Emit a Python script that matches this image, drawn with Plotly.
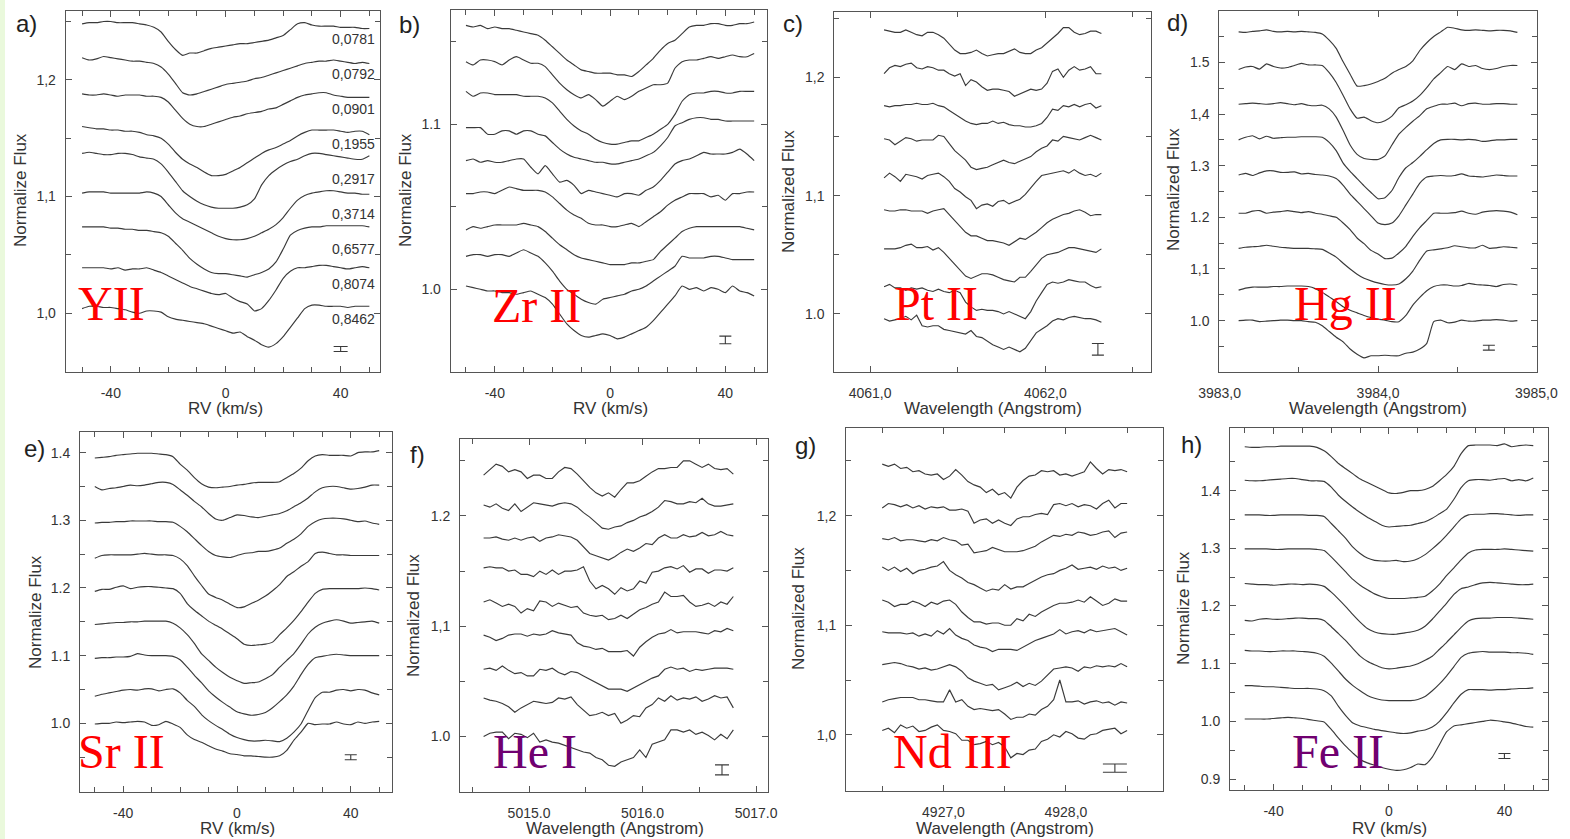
import numpy as np
import plotly.graph_objects as go

W, H = 1570, 839

# ---------------- data (flux values in units of 0.001) ----------------
rv_grid = np.arange(-50, 50.001, 2.5)            # km/s
pt_wave = np.linspace(4061.08, 4062.32, 41)       # Angstrom
hg_wave = np.linspace(3983.12, 3984.88, 41)
he_wave = np.linspace(5014.60, 5016.80, 41)
nd_wave = np.linspace(4926.50, 4928.50, 41)

phase_labels = ['0,0781', '0,0792', '0,0901', '0,1955', '0,2917', '0,3714', '0,6577', '0,8074', '0,8462']
phase_label_y = [1.235, 1.205, 1.175, 1.145, 1.115, 1.085, 1.055, 1.025, 0.995]
phase_label_x = 44.6

flux_y2 = [
    [1248,1249,1249,1250,1250,1249,1249,1249,1248,1247,1245,1241,1233,1226,1221,1223,1223,1225,1227,1228,1229,1230,1231,1231,1232,1233,1234,1236,1238,1243,1248,1249,1247,1246,1246,1246,1245,1245,1245,1244,1244],
    [1219,1217,1218,1220,1219,1218,1217,1216,1216,1215,1214,1211,1205,1197,1189,1187,1188,1190,1192,1194,1196,1197,1198,1199,1201,1202,1204,1206,1208,1210,1212,1214,1215,1216,1216,1217,1216,1215,1214,1215,1214],
    [1188,1187,1187,1188,1187,1186,1187,1187,1187,1186,1186,1185,1181,1174,1167,1162,1160,1160,1162,1164,1166,1168,1169,1171,1172,1173,1175,1176,1179,1182,1185,1187,1188,1189,1189,1187,1186,1185,1185,1185,1185],
    [1160,1159,1158,1158,1157,1157,1156,1156,1155,1153,1152,1150,1145,1138,1132,1128,1125,1121,1118,1118,1119,1122,1125,1129,1133,1137,1140,1142,1145,1148,1152,1155,1157,1157,1157,1157,1156,1155,1156,1156,1153],
    [1137,1138,1137,1136,1136,1137,1137,1136,1134,1133,1132,1128,1121,1113,1105,1100,1096,1093,1091,1090,1090,1090,1091,1093,1098,1110,1118,1123,1127,1130,1132,1135,1137,1137,1136,1135,1134,1133,1132,1132,1135],
    [1103,1104,1104,1104,1103,1103,1103,1103,1103,1104,1103,1100,1093,1086,1081,1078,1075,1072,1069,1066,1064,1063,1063,1064,1066,1069,1072,1076,1082,1090,1097,1101,1103,1104,1105,1105,1104,1103,1103,1102,1102],
    [1074,1074,1074,1074,1073,1073,1072,1072,1071,1071,1070,1069,1066,1060,1054,1047,1042,1038,1035,1034,1034,1033,1032,1031,1033,1035,1038,1044,1055,1067,1071,1073,1074,1074,1075,1075,1075,1075,1075,1075,1074],
    [1039,1039,1039,1039,1038,1039,1037,1038,1038,1039,1037,1035,1032,1029,1026,1023,1021,1019,1017,1016,1017,1013,1010,1008,1002,1004,1011,1020,1030,1036,1039,1039,1040,1041,1041,1040,1039,1038,1039,1040,1039],
    [1004,1006,1006,1005,1005,1004,1003,1001,1000,1002,1002,1001,997,995,994,993,992,991,989,987,985,983,984,980,977,973,971,974,980,988,996,1004,1007,1007,1006,1006,1006,1005,1006,1006,1006],
]

flux_zr2 = [
    [1160,1159,1160,1158,1159,1158,1158,1157,1156,1155,1154,1151,1147,1143,1139,1136,1133,1132,1131,1131,1131,1130,1130,1129,1132,1136,1140,1145,1149,1151,1155,1159,1160,1160,1161,1161,1160,1160,1161,1161,1162],
    [1138,1136,1139,1139,1138,1136,1139,1141,1139,1137,1137,1135,1130,1125,1121,1118,1116,1118,1115,1111,1114,1117,1115,1117,1120,1122,1124,1124,1125,1134,1138,1139,1139,1140,1141,1140,1141,1142,1141,1141,1143],
    [1120,1117,1119,1119,1118,1118,1118,1118,1117,1117,1117,1116,1113,1108,1103,1099,1096,1094,1091,1089,1088,1088,1089,1090,1090,1092,1094,1097,1100,1106,1114,1118,1119,1119,1120,1120,1119,1119,1120,1120,1120],
    [1098,1098,1098,1094,1094,1096,1096,1094,1096,1096,1094,1093,1089,1085,1082,1080,1079,1078,1077,1077,1076,1076,1077,1078,1079,1081,1083,1087,1092,1099,1101,1103,1104,1104,1103,1103,1102,1102,1102,1102,1102],
    [1078,1079,1077,1078,1077,1077,1078,1079,1079,1074,1070,1075,1070,1065,1066,1063,1058,1060,1059,1058,1057,1056,1058,1058,1057,1060,1062,1066,1071,1076,1078,1079,1081,1083,1082,1082,1082,1083,1085,1082,1078],
    [1058,1058,1059,1059,1058,1060,1062,1061,1060,1060,1060,1059,1056,1052,1048,1045,1043,1040,1039,1039,1038,1038,1039,1040,1038,1041,1044,1047,1051,1054,1056,1058,1058,1058,1056,1057,1054,1058,1058,1059,1059],
    [1036,1038,1037,1038,1039,1039,1039,1039,1040,1039,1038,1035,1031,1027,1024,1021,1019,1018,1017,1016,1015,1015,1015,1016,1016,1017,1018,1023,1027,1031,1035,1037,1038,1038,1038,1038,1038,1038,1038,1037,1036],
    [1020,1021,1021,1020,1021,1021,1020,1022,1024,1022,1020,1016,1011,1005,1000,997,994,992,991,994,995,996,997,999,1000,1002,1005,1008,1011,1014,1020,1019,1019,1019,1020,1020,1019,1018,1018,1018,1018],
    [1002,1001,1000,999,999,998,998,997,998,999,997,995,991,985,979,975,972,971,972,973,972,970,971,973,975,977,981,986,991,996,1002,1000,1001,999,1001,1000,998,1002,999,998,996],
]

flux_pt2 = [
    [1240,1239,1238,1238,1240,1238,1236,1235,1238,1238,1236,1233,1228,1223,1220,1220,1221,1223,1220,1218,1219,1220,1220,1222,1224,1221,1220,1220,1223,1225,1229,1233,1237,1242,1242,1238,1236,1237,1239,1239,1237],
    [1203,1208,1210,1209,1211,1212,1208,1207,1209,1208,1206,1206,1203,1201,1203,1193,1198,1196,1192,1189,1190,1190,1189,1188,1184,1186,1188,1190,1189,1190,1195,1205,1207,1200,1206,1209,1206,1207,1209,1203,1203],
    [1176,1175,1176,1176,1177,1177,1178,1177,1177,1178,1176,1175,1172,1169,1166,1163,1161,1160,1161,1161,1163,1161,1162,1160,1159,1159,1158,1158,1159,1161,1166,1173,1172,1176,1175,1177,1175,1177,1178,1174,1176],
    [1148,1147,1143,1146,1149,1148,1146,1147,1147,1147,1151,1150,1144,1138,1134,1130,1124,1122,1123,1124,1126,1128,1130,1128,1127,1129,1131,1133,1137,1140,1142,1147,1146,1150,1149,1148,1147,1149,1151,1149,1147],
    [1115,1119,1116,1112,1118,1117,1116,1114,1117,1118,1119,1116,1112,1106,1103,1099,1096,1089,1092,1093,1091,1095,1096,1093,1095,1097,1101,1107,1112,1117,1118,1119,1120,1121,1119,1122,1119,1117,1118,1116,1119],
    [1088,1087,1087,1088,1088,1087,1087,1087,1085,1087,1088,1089,1084,1079,1074,1069,1066,1066,1064,1062,1062,1061,1060,1058,1061,1064,1063,1066,1069,1073,1077,1080,1082,1084,1085,1087,1088,1086,1083,1084,1084],
    [1055,1055,1055,1056,1058,1059,1056,1056,1057,1054,1056,1052,1047,1042,1037,1032,1030,1032,1034,1034,1033,1031,1029,1028,1027,1031,1031,1036,1042,1047,1050,1051,1052,1054,1056,1056,1055,1054,1053,1052,1055],
    [1023,1025,1022,1022,1020,1022,1021,1022,1020,1019,1021,1019,1018,1020,1018,1010,1006,1003,1004,1003,1003,1002,1000,1002,1000,998,996,1002,1011,1018,1025,1027,1026,1027,1029,1028,1027,1027,1024,1022,1023],
    [996,994,995,996,998,995,999,990,989,990,990,987,986,985,984,983,986,981,980,977,974,972,970,972,970,968,971,978,984,987,990,994,996,995,997,998,997,996,996,995,993],
]

flux_hg2 = [
    [1559,1558,1560,1561,1563,1560,1559,1560,1559,1560,1559,1558,1555,1543,1527,1501,1477,1454,1455,1458,1463,1469,1479,1486,1492,1503,1523,1538,1550,1559,1568,1566,1563,1562,1563,1562,1561,1562,1562,1561,1558],
    [1486,1491,1492,1487,1497,1492,1489,1490,1494,1498,1495,1495,1494,1480,1461,1436,1410,1392,1394,1387,1383,1387,1396,1412,1418,1425,1436,1451,1468,1480,1492,1486,1497,1492,1494,1488,1486,1488,1492,1494,1494],
    [1419,1420,1421,1420,1419,1420,1422,1420,1418,1420,1417,1416,1417,1410,1394,1368,1340,1322,1314,1312,1312,1319,1340,1361,1374,1386,1397,1410,1415,1419,1419,1421,1416,1420,1421,1419,1419,1420,1420,1419,1419],
    [1350,1355,1358,1352,1357,1353,1354,1355,1355,1356,1356,1356,1355,1345,1329,1305,1289,1275,1261,1248,1236,1238,1252,1277,1296,1306,1318,1331,1343,1350,1351,1351,1350,1351,1350,1347,1348,1350,1350,1351,1351],
    [1282,1285,1281,1286,1290,1290,1287,1287,1288,1284,1285,1283,1282,1280,1275,1262,1245,1231,1217,1203,1189,1186,1189,1203,1224,1245,1266,1278,1280,1281,1280,1281,1284,1280,1279,1278,1280,1282,1281,1280,1280],
    [1208,1208,1212,1213,1208,1210,1211,1213,1211,1209,1211,1208,1206,1203,1200,1189,1176,1160,1149,1136,1129,1120,1121,1131,1144,1163,1180,1194,1208,1208,1208,1209,1212,1208,1206,1210,1212,1213,1212,1210,1205],
    [1140,1142,1143,1144,1146,1144,1142,1141,1140,1140,1140,1139,1138,1131,1123,1111,1100,1090,1082,1077,1073,1070,1069,1071,1081,1096,1117,1135,1137,1139,1141,1145,1143,1141,1141,1146,1140,1141,1143,1142,1141],
    [1059,1063,1065,1065,1065,1066,1066,1067,1067,1067,1066,1062,1055,1046,1037,1027,1020,1015,1010,1006,1003,1001,998,998,1010,1030,1045,1058,1066,1069,1069,1067,1068,1072,1070,1069,1068,1066,1070,1071,1069],
    [1000,1001,1001,998,999,1000,1001,1001,1000,1000,998,997,990,979,968,959,945,935,928,932,932,933,932,932,937,939,945,956,998,1001,996,997,1001,999,999,1001,1001,1002,1001,999,1000],
]

flux_sr2 = [
    [1392,1393,1394,1396,1397,1398,1399,1399,1399,1398,1397,1394,1383,1374,1363,1354,1349,1348,1349,1350,1352,1353,1355,1356,1356,1356,1357,1363,1369,1377,1388,1395,1397,1396,1396,1396,1395,1400,1401,1401,1403],
    [1350,1345,1347,1348,1350,1352,1351,1352,1354,1356,1356,1353,1345,1337,1328,1320,1310,1302,1300,1304,1308,1307,1305,1304,1306,1308,1310,1314,1320,1326,1333,1342,1348,1350,1350,1348,1346,1347,1349,1352,1352],
    [1296,1297,1297,1298,1298,1299,1299,1299,1299,1298,1298,1297,1291,1283,1273,1263,1254,1248,1246,1245,1248,1251,1252,1254,1254,1256,1259,1266,1272,1280,1291,1298,1302,1303,1303,1302,1300,1298,1299,1296,1294],
    [1244,1248,1249,1249,1249,1249,1250,1251,1250,1249,1249,1248,1243,1233,1218,1204,1191,1186,1182,1176,1171,1172,1177,1182,1188,1196,1205,1217,1224,1232,1239,1251,1253,1251,1249,1249,1248,1248,1248,1248,1248],
    [1195,1198,1198,1201,1203,1199,1201,1202,1202,1201,1200,1199,1192,1177,1167,1159,1151,1145,1139,1132,1125,1117,1115,1116,1117,1120,1131,1141,1152,1165,1179,1192,1198,1199,1199,1199,1199,1199,1200,1199,1197],
    [1146,1147,1148,1149,1149,1150,1150,1151,1151,1151,1151,1148,1141,1131,1118,1103,1093,1083,1075,1068,1063,1059,1060,1061,1066,1072,1083,1093,1103,1117,1132,1142,1148,1151,1153,1151,1148,1149,1150,1151,1148],
    [1096,1097,1097,1098,1098,1099,1103,1101,1100,1100,1100,1099,1094,1083,1071,1060,1048,1039,1031,1024,1017,1014,1012,1013,1016,1023,1032,1042,1055,1072,1087,1097,1099,1101,1102,1101,1100,1100,1100,1100,1100],
    [1040,1043,1045,1047,1049,1050,1049,1051,1051,1048,1050,1051,1045,1034,1025,1013,1004,997,991,984,979,976,974,974,975,974,973,978,987,999,1019,1038,1046,1046,1049,1050,1048,1050,1049,1045,1042],
    [999,1000,1000,1002,1001,1002,1003,1002,997,998,1003,999,994,983,976,972,967,962,959,955,954,952,952,951,950,950,952,960,975,987,1000,998,999,999,1002,999,998,1002,1000,1002,1003],
]

flux_he1 = [
    [1237,1242,1247,1245,1240,1242,1240,1234,1237,1237,1234,1234,1240,1244,1243,1238,1232,1226,1221,1218,1221,1217,1224,1230,1230,1232,1236,1240,1243,1243,1244,1244,1250,1250,1247,1244,1247,1243,1242,1243,1238],
    [1210,1208,1211,1207,1205,1211,1204,1208,1212,1211,1210,1209,1211,1212,1211,1208,1203,1199,1194,1189,1188,1190,1191,1194,1196,1199,1201,1204,1208,1214,1213,1211,1211,1213,1212,1216,1211,1209,1209,1210,1211],
    [1180,1180,1181,1179,1178,1180,1178,1180,1181,1177,1180,1181,1183,1182,1181,1178,1172,1166,1164,1162,1160,1163,1167,1170,1168,1171,1175,1174,1180,1183,1180,1180,1183,1181,1182,1185,1182,1183,1186,1183,1182],
    [1153,1154,1153,1153,1150,1151,1147,1147,1145,1150,1147,1151,1147,1150,1150,1151,1154,1141,1134,1137,1134,1129,1135,1132,1134,1141,1139,1149,1150,1153,1154,1152,1155,1149,1152,1152,1148,1151,1151,1150,1153],
    [1122,1124,1121,1118,1120,1118,1112,1116,1114,1123,1122,1118,1121,1119,1117,1118,1112,1110,1109,1110,1106,1107,1110,1107,1111,1115,1117,1120,1122,1131,1127,1127,1128,1122,1118,1119,1121,1118,1122,1120,1127],
    [1092,1090,1087,1089,1092,1093,1093,1091,1093,1092,1093,1096,1094,1093,1092,1085,1082,1081,1079,1080,1077,1077,1077,1078,1073,1081,1086,1090,1093,1094,1097,1094,1095,1095,1095,1094,1093,1096,1095,1098,1096],
    [1061,1062,1060,1064,1060,1057,1058,1055,1055,1061,1060,1062,1058,1056,1059,1058,1055,1052,1049,1046,1043,1043,1043,1041,1044,1047,1050,1053,1055,1061,1063,1061,1062,1059,1061,1060,1061,1062,1062,1062,1061],
    [1035,1033,1032,1030,1027,1022,1026,1029,1032,1031,1030,1031,1035,1034,1036,1029,1024,1019,1020,1022,1019,1021,1012,1015,1019,1018,1026,1029,1035,1032,1037,1033,1035,1034,1036,1032,1034,1037,1035,1036,1026],
    [1000,1003,1004,1004,998,1003,1002,999,1003,995,997,995,994,992,990,988,986,985,981,979,974,973,977,979,981,988,981,993,995,997,1006,1006,1004,1006,1002,1004,1001,997,1002,998,1006],
]

flux_nd3 = [
    [1247,1245,1247,1243,1244,1240,1241,1238,1237,1238,1233,1236,1242,1237,1231,1228,1226,1221,1224,1219,1221,1216,1226,1232,1236,1237,1241,1240,1241,1237,1238,1236,1238,1240,1249,1243,1238,1242,1241,1242,1240],
    [1207,1211,1210,1208,1210,1207,1209,1206,1208,1207,1208,1205,1205,1206,1204,1193,1196,1197,1193,1196,1193,1191,1197,1199,1199,1201,1202,1201,1210,1211,1209,1211,1208,1210,1209,1206,1211,1214,1207,1211,1211],
    [1179,1178,1180,1177,1178,1178,1177,1176,1178,1177,1180,1178,1177,1173,1174,1166,1167,1168,1171,1169,1167,1167,1167,1168,1170,1172,1176,1179,1182,1181,1183,1182,1185,1184,1182,1183,1185,1186,1180,1184,1185],
    [1153,1150,1153,1149,1152,1147,1150,1151,1153,1154,1158,1150,1146,1143,1139,1137,1134,1131,1133,1132,1137,1133,1135,1135,1138,1141,1144,1146,1147,1150,1152,1155,1151,1152,1153,1151,1154,1152,1153,1150,1152],
    [1123,1121,1117,1119,1119,1122,1120,1117,1121,1119,1122,1123,1119,1112,1107,1103,1103,1101,1102,1102,1100,1100,1106,1104,1110,1108,1112,1115,1118,1120,1120,1121,1123,1121,1126,1122,1118,1120,1124,1122,1122],
    [1094,1093,1093,1093,1092,1093,1090,1092,1090,1095,1092,1097,1091,1088,1086,1082,1080,1079,1076,1078,1078,1078,1077,1080,1083,1086,1088,1090,1092,1096,1092,1094,1095,1093,1096,1094,1095,1096,1097,1094,1091],
    [1064,1065,1066,1065,1063,1062,1060,1061,1059,1060,1062,1064,1062,1058,1052,1049,1047,1045,1046,1041,1043,1045,1048,1044,1047,1045,1049,1055,1060,1061,1062,1061,1058,1062,1061,1063,1062,1063,1062,1065,1062],
    [1030,1032,1033,1034,1034,1034,1032,1032,1031,1030,1030,1041,1030,1032,1026,1023,1024,1023,1022,1023,1019,1014,1016,1016,1019,1018,1023,1026,1032,1050,1030,1030,1031,1028,1030,1031,1029,1030,1027,1030,1029],
    [1004,1006,1002,1009,1006,1008,1003,1004,1007,1009,1004,1003,1001,995,995,991,992,994,991,993,989,979,983,982,986,987,994,996,1000,998,1003,1001,997,996,1000,1001,1004,1005,1006,1001,1004],
]

flux_fe2 = [
    [1476,1475,1475,1476,1476,1477,1477,1477,1477,1477,1475,1469,1459,1447,1438,1429,1420,1414,1408,1402,1396,1395,1397,1400,1400,1402,1407,1417,1428,1442,1464,1478,1479,1479,1479,1478,1481,1476,1478,1479,1478],
    [1418,1417,1417,1418,1419,1420,1421,1421,1419,1417,1417,1416,1406,1392,1381,1371,1362,1354,1347,1340,1337,1338,1339,1340,1343,1346,1352,1360,1368,1385,1405,1417,1419,1419,1418,1420,1421,1417,1419,1417,1422],
    [1358,1358,1358,1357,1357,1358,1358,1358,1358,1357,1357,1355,1343,1330,1317,1302,1291,1283,1279,1278,1278,1279,1277,1278,1282,1289,1299,1310,1323,1337,1351,1358,1359,1359,1360,1360,1359,1358,1357,1358,1358],
    [1299,1299,1299,1299,1298,1298,1299,1299,1299,1299,1298,1296,1285,1272,1259,1246,1236,1228,1221,1216,1213,1213,1213,1214,1215,1217,1226,1238,1253,1266,1280,1292,1297,1298,1298,1298,1299,1298,1297,1296,1295],
    [1239,1238,1237,1237,1236,1237,1238,1238,1237,1238,1237,1234,1224,1212,1199,1185,1172,1161,1155,1152,1151,1151,1153,1155,1158,1165,1177,1191,1205,1220,1230,1233,1237,1240,1241,1240,1239,1238,1237,1237,1238],
    [1175,1174,1177,1178,1177,1177,1178,1179,1179,1178,1178,1175,1164,1152,1140,1126,1113,1104,1098,1093,1091,1092,1094,1096,1100,1106,1113,1125,1137,1150,1163,1174,1178,1179,1179,1180,1180,1180,1179,1178,1177],
    [1123,1122,1122,1121,1121,1122,1122,1122,1121,1120,1118,1113,1101,1087,1073,1062,1053,1045,1040,1037,1036,1036,1036,1036,1038,1043,1053,1065,1079,1095,1111,1118,1120,1121,1120,1120,1120,1119,1119,1118,1116],
    [1062,1062,1061,1060,1060,1059,1058,1057,1057,1057,1056,1053,1044,1026,1010,997,992,989,986,984,982,980,979,980,983,985,990,1000,1015,1032,1047,1055,1055,1055,1054,1055,1055,1056,1057,1057,1058],
    [1004,1004,1004,1004,1005,1006,1007,1006,1005,1003,1001,999,986,971,957,945,934,928,924,920,917,915,916,920,926,925,938,960,982,992,994,996,998,1000,1002,1001,999,997,994,991,990],
]

# error bars: (x, y, half-height)
err_x = [40, 40, 4062.30, 3984.70, 40, 5016.70, 4928.40, 40]
err_y = [0.9694, 0.9693, 0.9701, 0.9477, 0.9498, 0.9698, 0.9696, 0.9400]
err_h = [0.0021, 0.0023, 0.0049, 0.0048, 0.0037, 0.0045, 0.0038, 0.0043]
err_cap = [7, 6, 6, 6, 6, 7, 12, 6]

element_names = ['YII', 'Zr II', 'Pt II', 'Hg II', 'Sr II', 'He I', 'Nd III', 'Fe II']
panel_letters = ['a)', 'b)', 'c)', 'd)', 'e)', 'f)', 'g)', 'h)']

# ---------------- layout description ----------------
RED, PURPLE = '#ff0000', '#700070'
panels = [
    dict(x=rv_grid, flux=flux_y2, box=(65.7, 11, 380, 372), xr=[-55.7, 53.7], yr=[0.9497, 1.259],
         xt=[-40, 0, 40], xtt=['-40', '0', '40'], xm=[-50, -30, -20, -10, 10, 20, 30, 50],
         yt=[1.0, 1.1, 1.2], ytt=['1,0', '1,1', '1,2'], ym=[1.05, 1.15, 1.25],
         xtitle='RV (km/s)', ytitle='Normalize Flux', xt_pos=(225.7, 408), yt_pos=(20, 190),
         lab=(26, 24), el=(76, 303), col=RED, smooth=True),
    dict(x=rv_grid, flux=flux_zr2, box=(450.7, 10, 766.7, 372.3), xr=[-55.3, 54.35], yr=[0.9497, 1.1693],
         xt=[-40, 0, 40], xtt=['-40', '0', '40'], xm=[-50, -30, -20, -10, 10, 20, 30, 50],
         yt=[1.0, 1.1], ytt=['1.0', '1.1'], ym=[1.05, 1.15],
         xtitle='RV (km/s)', ytitle='Normalize Flux', xt_pos=(610, 408), yt_pos=(405, 190),
         lab=(409, 25), el=(490, 305), col=RED, smooth=True),
    dict(x=pt_wave, flux=flux_pt2, box=(834.3, 12.3, 1151, 372.3), xr=[4060.796, 4062.603], yr=[0.9507, 1.2549],
         xt=[4061.0, 4062.0], xtt=['4061,0', '4062,0'], xm=[4061.5, 4062.5],
         yt=[1.0, 1.1, 1.2], ytt=['1.0', '1,1', '1,2'], ym=[1.05, 1.15, 1.25],
         xtitle='Wavelength (Angstrom)', ytitle='Normalized Flux', xt_pos=(993, 408), yt_pos=(788, 192),
         lab=(793, 24), el=(892, 304), col=RED, smooth=False),
    dict(x=hg_wave, flux=flux_hg2, box=(1219.3, 10.7, 1536.7, 372.3), xr=[3982.998, 3985.002], yr=[0.9, 1.6],
         xt=[3983.0, 3984.0, 3985.0], xtt=['3983,0', '3984,0', '3985,0'], xm=[3983.5, 3984.5],
         yt=[1.0, 1.1, 1.2, 1.3, 1.4, 1.5], ytt=['1.0', '1,1', '1.2', '1.3', '1,4', '1.5'],
         ym=[0.95, 1.05, 1.15, 1.25, 1.35, 1.45, 1.55],
         xtitle='Wavelength (Angstrom)', ytitle='Normalized Flux', xt_pos=(1378, 408), yt_pos=(1173, 190),
         lab=(1177, 23), el=(1292, 304), col=RED, smooth=True),
    dict(x=rv_grid, flux=flux_sr2, box=(80, 432.3, 392, 791.7), xr=[-55.2, 54.5], yr=[0.899, 1.430],
         xt=[-40, 0, 40], xtt=['-40', '0', '40'], xm=[-50, -30, -20, -10, 10, 20, 30, 50],
         yt=[1.0, 1.1, 1.2, 1.3, 1.4], ytt=['1.0', '1.1', '1.2', '1.3', '1.4'], ym=[0.95, 1.05, 1.15, 1.25, 1.35],
         xtitle='RV (km/s)', ytitle='Normalize Flux', xt_pos=(237, 828), yt_pos=(35, 612),
         lab=(34, 448), el=(76, 751), col=RED, smooth=True),
    dict(x=he_wave, flux=flux_he1, box=(460, 439, 768.3, 791.7), xr=[5014.392, 5017.108], yr=[0.950, 1.2698],
         xt=[5015.0, 5016.0, 5017.0], xtt=['5015.0', '5016.0', '5017.0'], xm=[5014.5, 5015.5, 5016.5],
         yt=[1.0, 1.1, 1.2], ytt=['1.0', '1,1', '1.2'], ym=[1.05, 1.15, 1.25],
         xtitle='Wavelength (Angstrom)', ytitle='Normalized Flux', xt_pos=(615, 828), yt_pos=(413, 616),
         lab=(417, 454), el=(491, 751), col=PURPLE, smooth=False),
    dict(x=nd_wave, flux=flux_nd3, box=(846, 427.7, 1163, 790.7), xr=[4926.204, 4928.793], yr=[0.949, 1.2802],
         xt=[4927.0, 4928.0], xtt=['4927,0', '4928,0'], xm=[4926.5, 4927.5, 4928.5],
         yt=[1.0, 1.1, 1.2], ytt=['1,0', '1,1', '1,2'], ym=[1.05, 1.15, 1.25],
         xtitle='Wavelength (Angstrom)', ytitle='Normalized Flux', xt_pos=(1005, 828), yt_pos=(798, 609),
         lab=(805, 445), el=(891, 751), col=RED, smooth=False),
    dict(x=rv_grid, flux=flux_fe2, box=(1230, 428.3, 1547.7, 790), xr=[-55.1, 55.0], yr=[0.881, 1.508],
         xt=[-40, 0, 40], xtt=['-40', '0', '40'], xm=[-50, -30, -20, -10, 10, 20, 30, 50],
         yt=[0.9, 1.0, 1.1, 1.2, 1.3, 1.4], ytt=['0.9', '1.0', '1.1', '1.2', '1.3', '1.4'],
         ym=[0.95, 1.05, 1.15, 1.25, 1.35, 1.45],
         xtitle='RV (km/s)', ytitle='Normalize Flux', xt_pos=(1389, 828), yt_pos=(1183, 608),
         lab=(1191, 444), el=(1290, 751), col=PURPLE, smooth=True),
]

SANS = 'Liberation Sans, Arial, sans-serif'
SERIF = 'Liberation Serif, Times New Roman, serif'
AX = '#555555'
LINE = '#3a3a3a'

fig = go.Figure()
layout = dict(width=W, height=H, autosize=False,
              margin=dict(l=0, r=0, t=0, b=0, pad=0, autoexpand=False),
              paper_bgcolor='white', plot_bgcolor='rgba(0,0,0,0)', showlegend=False)
annotations = []


def px(x):
    return x / W


def py(y):
    return 1 - y / H


for i, p in enumerate(panels):
    n = i + 1
    xa, ya = f'x{n}', f'y{n}'
    for curve in p['flux']:
        assert len(curve) == len(p['x']), (i, len(curve))
        fig.add_trace(go.Scatter(
            x=p['x'], y=[v / 1000.0 for v in curve], mode='lines',
            line=dict(color=LINE, width=1.15, shape='spline' if p['smooth'] else 'linear', smoothing=0.5),
            xaxis=xa, yaxis=ya, hoverinfo='skip', showlegend=False))
    # error bar
    fig.add_trace(go.Scatter(
        x=[err_x[i]], y=[err_y[i]], mode='markers',
        marker=dict(size=1, color='rgba(0,0,0,0)'),
        error_y=dict(type='data', array=[err_h[i]], visible=True, width=err_cap[i], thickness=1.1, color=LINE),
        xaxis=xa, yaxis=ya, hoverinfo='skip', showlegend=False))

    L, T, R, B = p['box']
    common = dict(showline=True, linecolor=AX, linewidth=1, mirror='ticks', ticks='inside',
                  ticklen=6, tickwidth=1, tickcolor=AX, showgrid=False, zeroline=False, automargin=False,
                  tickfont=dict(family=SANS, size=14, color='#333333'), tickmode='array', fixedrange=True)
    layout[f'xaxis{n}'] = dict(common, domain=[px(L), px(R)], range=p['xr'], anchor=ya,
                               tickvals=p['xt'], ticktext=p['xtt'], ticklabelstandoff=8,
                               minor=dict(tickmode='array', tickvals=p['xm'], ticks='inside', ticklen=5,
                                          tickcolor=AX, showgrid=False))
    layout[f'yaxis{n}'] = dict(common, domain=[py(B), py(T)], range=p['yr'], anchor=xa,
                               tickvals=p['yt'], ticktext=p['ytt'], ticklabelstandoff=6,
                               minor=dict(tickmode='array', tickvals=p['ym'], ticks='inside', ticklen=5,
                                          tickcolor=AX, showgrid=False))
    # axis titles
    annotations.append(dict(text=p['xtitle'], x=px(p['xt_pos'][0]), y=py(p['xt_pos'][1]), xref='paper', yref='paper',
                            showarrow=False, xanchor='center', yanchor='middle',
                            font=dict(family=SANS, size=17, color='#333333')))
    annotations.append(dict(text=p['ytitle'], x=px(p['yt_pos'][0]), y=py(p['yt_pos'][1]), xref='paper', yref='paper',
                            showarrow=False, xanchor='center', yanchor='middle', textangle=-90,
                            font=dict(family=SANS, size=17, color='#333333')))
    # panel letter
    annotations.append(dict(text=panel_letters[i], x=px(p['lab'][0]), y=py(p['lab'][1]), xref='paper', yref='paper',
                            showarrow=False, xanchor='center', yanchor='middle',
                            font=dict(family=SANS, size=24, color='#222222')))
    # element name
    annotations.append(dict(text=element_names[i], x=px(p['el'][0]), y=py(p['el'][1]), xref='paper', yref='paper',
                            showarrow=False, xanchor='left', yanchor='middle',
                            font=dict(family=SERIF, size=48, color=p['col'])))

# phase labels in panel a
for lab, yv in zip(phase_labels, phase_label_y):
    annotations.append(dict(text=lab, x=phase_label_x, y=yv, xref='x1', yref='y1', showarrow=False,
                            xanchor='center', yanchor='middle',
                            font=dict(family=SANS, size=14, color='#333333')))

layout['annotations'] = annotations
layout['shapes'] = [dict(type='rect', xref='paper', yref='paper', x0=0, x1=px(5), y0=0, y1=1,
                         fillcolor='#eaf9dc', line=dict(width=0), layer='below')]
fig.update_layout(**layout)
fig.write_html('out.html')
